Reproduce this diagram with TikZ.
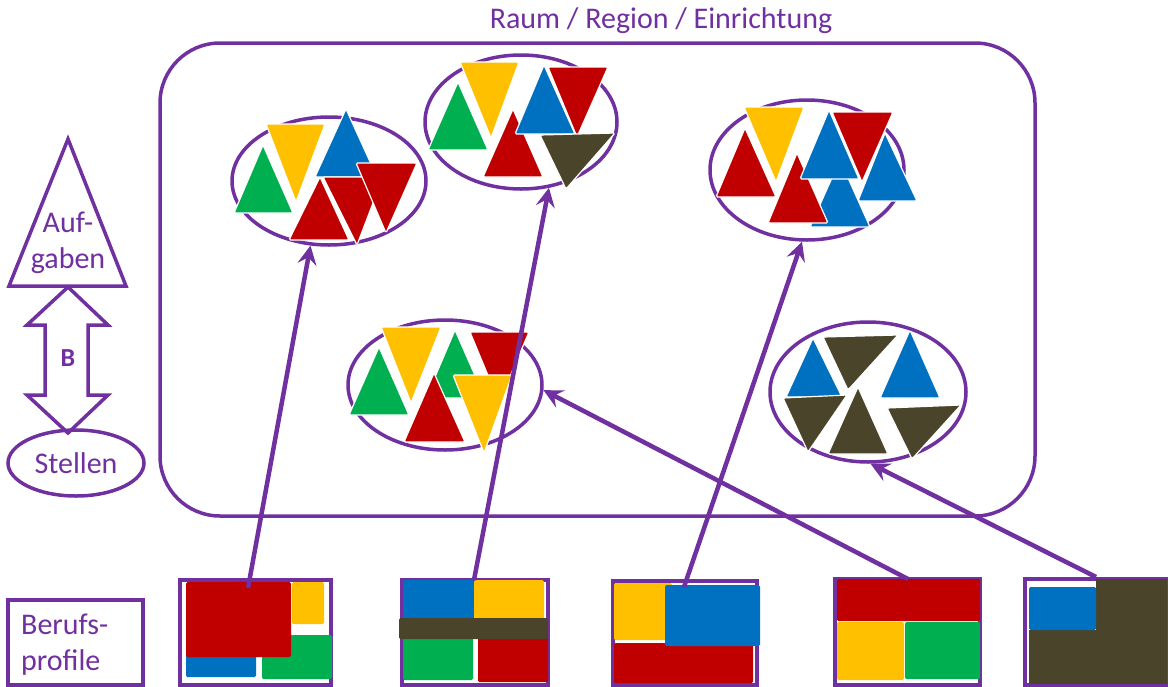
\documentclass[tikz,border=0pt]{standalone}
\usepackage{fontspec}
\setmainfont{Carlito}
\usetikzlibrary{shapes.geometric,arrows.meta}

\definecolor{lila}{HTML}{7030A0}
\definecolor{rot}{HTML}{C00000}
\definecolor{gelb}{HTML}{FFC000}
\definecolor{gruen}{HTML}{00B050}
\definecolor{blau}{HTML}{0070C0}
\definecolor{oliv}{HTML}{4A452A}

% filled triangle with a thin white rim
\newcommand\ptri[4]{\filldraw[tri, fill=#1] #2 -- #3 -- #4 -- cycle;}

\tikzset{
  tri/.style={draw=white, line width=1.2pt, rounded corners=1.5pt},
  grp/.style={ellipse, draw=lila, line width=3.5pt, inner sep=0pt},
  frame/.style={draw=lila, line width=3.5pt, inner sep=0pt},
  blk/.style={rounded corners=1.5pt},
  link/.style={draw=lila, line width=4.5pt, -{Stealth[length=19pt,width=19pt,inset=7pt]}},
  lbl/.style={text=lila, font=\fontsize{30}{36}\selectfont},
}

\begin{document}
\begin{tikzpicture}[x=1pt,y=-1pt]
\useasboundingbox (0,0) rectangle (1168,686);

% ---- region frame and title
\node[frame, rounded corners=60pt, minimum width=875pt, minimum height=473pt] (raum) at (597.5,279.5) {};
\node[lbl] (titel) at (661,21) {Raum / Region / Einrichtung};

% ---- groups of tasks
\node[grp, minimum width=194pt, minimum height=128pt] (e1) at (329,181) {};
\node[grp, minimum width=192pt, minimum height=134pt] (e2) at (521,122) {};
\node[grp, minimum width=194pt, minimum height=140pt] (e3) at (807,170) {};
\node[grp, minimum width=194pt, minimum height=130pt] (e4) at (445,385) {};
\node[grp, minimum width=196pt, minimum height=140pt] (e5) at (868,392) {};

% group 1
\ptri{gruen}{(263,145)}{(293,213)}{(234,213)}
\ptri{gelb}{(266,124)}{(325,124)}{(296,202)}
\ptri{blau}{(346,109)}{(377,177)}{(315,177)}
\ptri{rot}{(320,177)}{(349,240)}{(289,240)}
\ptri{rot}{(323,177)}{(383,177)}{(357,245)}
\ptri{rot}{(356,163)}{(417,163)}{(386,233)}

% group 2
\ptri{gruen}{(458,82)}{(488,150)}{(428,150)}
\ptri{gelb}{(460,62)}{(519,62)}{(491,138)}
\ptri{rot}{(513,109)}{(543,177)}{(483,177)}
\ptri{blau}{(544,65)}{(575,134)}{(515,134)}
\ptri{rot}{(548,67)}{(608,67)}{(577,137)}
\ptri{oliv}{(540,135)}{(615,133)}{(566,189)}

% group 3
\ptri{rot}{(745,128)}{(776,197)}{(716,197)}
\ptri{gelb}{(744,107)}{(804,107)}{(776,182)}
\ptri{blau}{(840,160)}{(870,227)}{(810,227)}
\ptri{rot}{(797,153)}{(828,223)}{(768,223)}
\ptri{blau}{(829,110)}{(859,179)}{(800,179)}
\ptri{blau}{(885,133)}{(917,201)}{(858,201)}
\ptri{rot}{(832,112)}{(893,112)}{(862,182)}

% group 4
\ptri{gruen}{(379,347)}{(409,415)}{(349,415)}
\ptri{gelb}{(381,327)}{(441,327)}{(411,403)}
\ptri{gruen}{(455,330)}{(485,398)}{(426,398)}
\ptri{rot}{(470,332)}{(529,332)}{(499,402)}
\ptri{rot}{(434,373)}{(465,442)}{(404,442)}
\ptri{gelb}{(453,375)}{(512,375)}{(484,453)}

% group 5
\ptri{blau}{(813,338)}{(842,397)}{(786,397)}
\ptri{oliv}{(823,337)}{(898,335)}{(848,390)}
\ptri{blau}{(910,330)}{(940,398)}{(880,398)}
\ptri{oliv}{(783,398)}{(847,395)}{(808,452)}
\ptri{oliv}{(858,387)}{(888,454)}{(828,454)}
\ptri{oliv}{(887,408)}{(961,405)}{(912,459)}

% ---- legend on the left
\draw[frame, fill=white] (68,139) -- (126,286) -- (9,286) -- cycle;
\node[lbl, align=center] (aufg) at (68,243) {Auf-\\gaben};
\draw[frame] (68,287) -- (108,325) -- (88,325) -- (88,395) -- (108,395) -- (68,433)
  -- (27,395) -- (45,395) -- (45,325) -- (27,325) -- cycle;
\node[text=lila, font=\fontsize{26}{30}\selectfont\bfseries] (b) at (68,358) {B};
\node[grp, lbl, minimum width=136pt, minimum height=66pt] (stellen) at (76,463) {Stellen};

\node[frame, minimum width=135pt, minimum height=85pt] (bpbox) at (75.5,642.5) {};
\node[lbl, align=left, anchor=west, inner sep=0pt] (bptext) at (21,645) {Berufs-\\profile};

% ---- job profiles
\node[frame, minimum width=151pt, minimum height=105pt] (bp1) at (255.5,632.5) {};
\fill[gelb, blk] (292,582) rectangle (324,624);
\fill[blau, blk] (186,650) rectangle (256,677);
\fill[gruen, blk] (262,635) rectangle (332,679);
\fill[rot, blk] (186,582) rectangle (291,657);

\node[frame, minimum width=146pt, minimum height=105pt] (bp2) at (475,632.5) {};
\fill[blau, blk] (403,580) rectangle (474,620);
\fill[gelb, blk] (474,580) rectangle (544,620);
\fill[gruen, blk] (403,637) rectangle (473,680);
\fill[rot, blk] (478,637) rectangle (548,682);
\fill[oliv, blk] (399,618) rectangle (548,639);

\node[frame, minimum width=144pt, minimum height=104pt] (bp3) at (685,633) {};
\fill[gelb, blk] (614,583) rectangle (672,640);
\fill[rot, blk] (614,643) rectangle (753,683);
\fill[blau, blk] (665,585) rectangle (760,646);

\node[frame, minimum width=145pt, minimum height=106pt] (bp4) at (907.5,632) {};
\fill[rot, blk] (837,579) rectangle (980,621);
\fill[gelb, blk] (837,622) rectangle (904,680);
\fill[gruen, blk] (905,622) rectangle (980,679);

\node[frame, minimum width=141pt, minimum height=106pt] (bp5) at (1095.5,632) {};
\fill[oliv] (1096,579) rectangle (1167,684);
\fill[oliv] (1029,630) rectangle (1167,684);
\fill[blau, blk] (1029,587) rectangle (1096,630);

% ---- assignments of profiles to groups
\coordinate (s1) at (248,588);
\coordinate (s2) at (474,580);
\coordinate (s3) at (684,587);
\coordinate (s4) at (908,579);
\coordinate (s5) at (1096,577);
\draw[link] (s1) -- (e1.-106);
\draw[link] (s2) -- (e2.-67);
\draw[link] (s3) -- (e3.-94);
\draw[link] (s4) -- (e4.-3);
\draw[link] (s5) -- (e5.-88);
\end{tikzpicture}
\end{document}
